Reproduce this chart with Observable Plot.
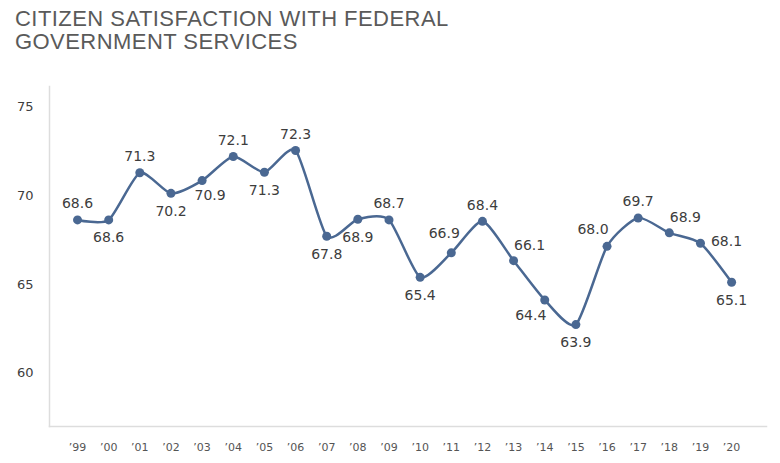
<!DOCTYPE html>
<html><head><meta charset="utf-8">
<script src="https://cdn.jsdelivr.net/npm/d3@7"></script>
<script src="https://cdn.jsdelivr.net/npm/@observablehq/plot@0.6"></script>
<style>
body{margin:0;background:#fff;}
#title{height:62px;box-sizing:border-box;padding:7px 0 0 15px;font-family:"Liberation Sans Narrow","Liberation Sans",sans-serif;font-size:22px;line-height:23px;letter-spacing:0.45px;color:#5a5a5a;white-space:nowrap;}
#chart svg{display:block;}
</style></head><body>
<div id="title">CITIZEN SATISFACTION WITH FEDERAL<br>GOVERNMENT SERVICES</div>
<div id="chart"></div>
<script>
const years = [1999,2000,2001,2002,2003,2004,2005,2006,2007,2008,2009,2010,2011,2012,2013,2014,2015,2016,2017,2018,2019,2020];
const tickLabels = ["’99","’00","’01","’02","’03","’04","’05","’06","’07","’08","’09","’10","’11","’12","’13","’14","’15","’16","’17","’18","’19","’20"];
const values = [68.64,68.64,71.3,70.14,70.86,72.22,71.33,72.56,67.72,68.68,68.64,65.4,66.78,68.56,66.34,64.12,62.73,67.15,68.75,67.91,67.32,65.12];
const valueLabels = ["68.6","68.6","71.3","70.2","70.9","72.1","71.3","72.3","67.8","68.9","68.7","65.4","66.9","68.4","66.1","64.4","63.9","68.0","69.7","68.9","68.1","65.1"];
const labelSide = ["n","s","n","s","se","n","s","n","s","s","n","s","nnw","n","ne","sw","s","nw","n","ne","e","s"];

const data = years.map((y,i)=>({year:y, value:values[i], label:valueLabels[i], side:labelSide[i]}));
const offsets = {n:[0,-16], s:[0,18], se:[8,15], nnw:[-7,-19], nw:[-14,-17], ne:[16,-15], sw:[-14,16], e:[26,-2]};
const color = "#4a6892";
const labelFont = {fontFamily:"DejaVu Sans, sans-serif", fontSize:14, fill:"#3d3d3d"};

const labelMarks = Object.entries(offsets).map(([k,[dx,dy]]) =>
  Plot.text(data.filter(d=>d.side===k), {x:"year", y:"value", text:"label", dx, dy, ...labelFont})
);

const chart = Plot.plot({
  width:780, height:401,
  marginLeft:49, marginRight:14, marginTop:24, marginBottom:37,
  style:{fontFamily:"DejaVu Sans, sans-serif", background:"#fff"},
  x:{type:"linear", domain:[1998.1, 2021.12]},
  y:{domain:[56.98, 76.17]},
  marks:[
    Plot.frame({anchor:"left", stroke:"#ddd", strokeWidth:1.5}),
    Plot.frame({anchor:"bottom", stroke:"#ddd", strokeWidth:1.5}),
    Plot.axisY({ticks:[60,65,70,75], tickSize:0, tickPadding:16, label:null, fontSize:13, fill:"#3d3d3d"}),
    Plot.axisX({ticks:years, tickFormat:(d)=>tickLabels[years.indexOf(d)], tickSize:0, tickPadding:17, label:null, fontSize:11, fill:"#555"}),
    Plot.line(data, {x:"year", y:"value", curve:"cardinal", tension:0.35, stroke:color, strokeWidth:2.5}),
    Plot.dot(data, {x:"year", y:"value", r:4.5, fill:color, stroke:null}),
    ...labelMarks
  ]
});
document.getElementById("chart").appendChild(chart);
</script>
</body></html>
